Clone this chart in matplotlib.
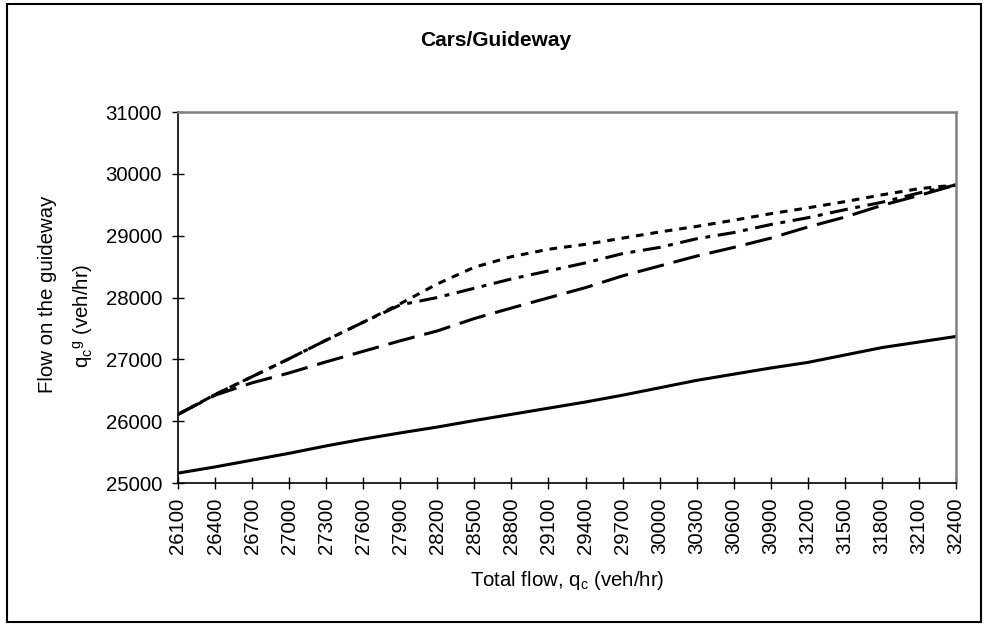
import matplotlib
matplotlib.use("Agg")
import matplotlib.pyplot as plt
from matplotlib.patches import Rectangle

plt.rcParams['font.family'] = ['Liberation Sans', 'DejaVu Sans']
plt.rcParams['mathtext.fontset'] = 'custom'
plt.rcParams['mathtext.rm'] = 'Liberation Sans'
plt.rcParams['lines.scale_dashes'] = False

total_flow = [26100, 26400, 26700, 27000, 27300, 27600, 27900, 28200, 28500, 28800, 29100,
              29400, 29700, 30000, 30300, 30600, 30900, 31200, 31500, 31800, 32100, 32400]

solid = [25160, 25260, 25370, 25480, 25600, 25710, 25810, 25905, 26010, 26110, 26210,
         26310, 26420, 26540, 26660, 26760, 26860, 26950, 27070, 27190, 27280, 27370]
dashed = [26110, 26420, 26620, 26780, 26960, 27130, 27300, 27460, 27660, 27830, 27995,
          28160, 28350, 28510, 28670, 28810, 28960, 29140, 29300, 29490, 29650, 29820]
dashdot = [26110, 26430, 26720, 27010, 27310, 27600, 27880, 28000, 28150, 28300, 28430,
           28560, 28710, 28810, 28950, 29050, 29180, 29290, 29420, 29540, 29690, 29820]
dotted = [26110, 26430, 26720, 27010, 27310, 27600, 27900, 28220, 28490, 28660, 28780,
          28860, 28960, 29060, 29150, 29250, 29355, 29450, 29550, 29660, 29760, 29820]

fs = 14.7
fig = plt.figure(figsize=(9.89, 6.26), dpi=100)
ax = fig.add_axes([178 / 989, 1 - 483 / 626, (956 - 178) / 989, (483 - 112) / 626])

pos = list(range(len(total_flow)))
ax.plot(pos, solid, color='black', lw=2.2, linestyle='-')
ax.plot(pos, dashed, color='black', lw=2.2, linestyle=(0, (19.5, 7.2)))
ax.plot(pos, dashdot, color='black', lw=2.2, linestyle=(0, (13, 5.5, 3.5, 5.5)))
ax.plot(pos, dotted, color='black', lw=2.2, linestyle=(0, (5.5, 5)))

ax.set_xlim(0, len(total_flow) - 1)
ax.set_ylim(25000, 31000)
ax.set_yticks(range(25000, 31001, 1000))
ax.set_xticks(pos)
ax.set_xticklabels([str(v) for v in total_flow], rotation=90, fontsize=fs)
ax.tick_params(axis='y', direction='inout', length=9, width=1, labelsize=fs, pad=7)
ax.tick_params(axis='x', direction='inout', length=9, width=1, pad=6)

for s in ['left', 'bottom']:
    ax.spines[s].set_color('black')
    ax.spines[s].set_linewidth(1.2)
for s in ['top', 'right']:
    ax.spines[s].set_color('#808080')
    ax.spines[s].set_linewidth(1.8)

fig.text(496 / 989, 1 - 40 / 626, 'Cars/Guideway', ha='center', va='center',
         fontsize=15, fontweight='bold')
fig.text(567 / 989, 1 - 580 / 626, r'Total flow, q$_{\mathregular{c}}$ (veh/hr)',
         ha='center', va='center', fontsize=fs)
fig.text(48 / 989, 1 - 294 / 626, 'Flow on the guideway', rotation=90,
         ha='center', va='center', fontsize=fs)
fig.text(83 / 989, 1 - 316 / 626, r'q$_{\mathregular{c}}$$^{\mathregular{g}}$ (veh/hr)',
         rotation=90, ha='center', va='center', fontsize=fs)

fig.add_artist(Rectangle((7 / 989, 1 - 622 / 626), (981 - 7) / 989, (622 - 4) / 626,
                         transform=fig.transFigure, fill=False, edgecolor='black', lw=1.5))

fig.savefig('out.png', dpi=100)
